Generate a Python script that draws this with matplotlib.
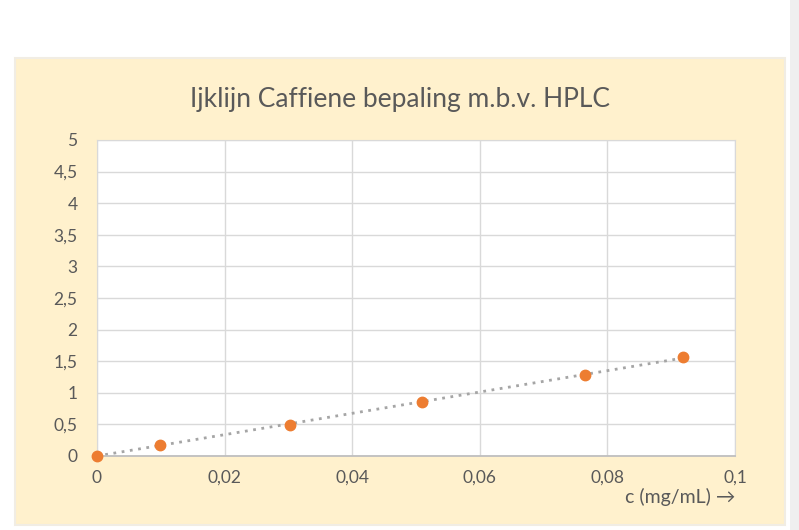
import matplotlib.pyplot as plt
import numpy as np
from matplotlib.patches import Rectangle
from matplotlib.ticker import FuncFormatter

# Data
conc = [0.0, 0.0099, 0.0302, 0.0509, 0.0765, 0.0918]
area = [0.0, 0.17, 0.49, 0.85, 1.28, 1.57]
xticks = [0, 0.02, 0.04, 0.06, 0.08, 0.1]
yticks = [0, 0.5, 1, 1.5, 2, 2.5, 3, 3.5, 4, 4.5, 5]

plt.rcParams['font.family'] = ['Lato', 'DejaVu Sans']

fig = plt.figure(figsize=(7.99, 5.30), dpi=100)
fig.patch.set_facecolor('white')

# grey strip on the right edge
fig.patches.append(Rectangle((790 / 799, 0), 9 / 799, 1, transform=fig.transFigure,
                             facecolor='#efefef', edgecolor='none', zorder=-2))
# beige chart area
fig.patches.append(Rectangle((15 / 799, 5 / 530), 770 / 799, 467 / 530,
                             transform=fig.transFigure, facecolor='#fff1cd',
                             edgecolor='#f1ede4', linewidth=1.5, zorder=-1))

ax = fig.add_axes([97 / 799, 74 / 530, 638 / 799, 316 / 530])
ax.set_facecolor('white')

# lineaire trendlijn door de oorsprong
x = np.array(conc)
y = np.array(area)
slope = np.sum(x * y) / np.sum(x * x)
xt = np.array([x.min(), x.max()])
ax.plot(xt, slope * xt, color='#a5a5a5', linestyle=(0, (1, 2)), linewidth=2, zorder=2)

ax.plot(conc, area, 'o', color='#ed7d31', markersize=7.5, zorder=3, clip_on=False)

ax.set_xlim(0, 0.1)
ax.set_ylim(0, 5)
ax.set_xticks(xticks)
ax.set_yticks(yticks)

def comma(v, pos):
    s = ('%g' % round(v, 4))
    return s.replace('.', ',')

ax.xaxis.set_major_formatter(FuncFormatter(comma))
ax.yaxis.set_major_formatter(FuncFormatter(comma))
ax.tick_params(length=0, labelsize=12.5, colors='#595959')
ax.tick_params(axis='x', pad=10)
ax.tick_params(axis='y', pad=14)

ax.grid(True, color='#d9d9d9', linewidth=1)
ax.set_axisbelow(True)
for s in ['top', 'right', 'left']:
    ax.spines[s].set_color('#d9d9d9')
ax.spines['bottom'].set_color('#bfbfbf')
ax.spines['bottom'].set_linewidth(1.3)

fig.text(400 / 799, 1 - 100 / 530, 'Ijklijn Caffiene bepaling m.b.v. HPLC',
         ha='center', va='center', fontsize=19, color='#595959')
fig.text(735 / 799, 1 - 497 / 530, 'c (mg/mL) →', ha='right', va='center',
         fontsize=14, color='#595959', family=['Lato', 'DejaVu Sans'])

fig.savefig('out.png', dpi=100)
